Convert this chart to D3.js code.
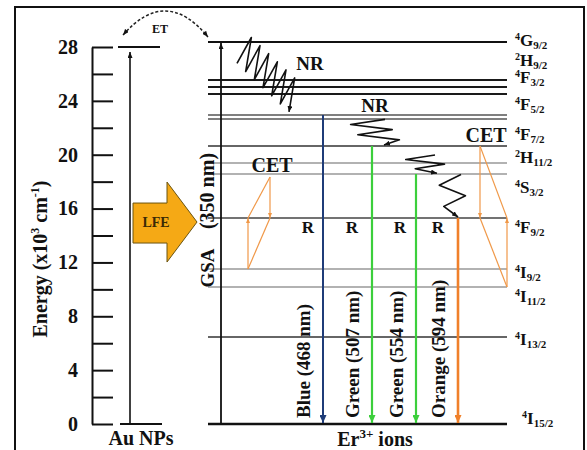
<!DOCTYPE html>
<html>
<head>
<meta charset="utf-8">
<script src="https://cdn.jsdelivr.net/npm/d3@7"></script>
<style>
  body { margin: 0; background: #fff; }
  svg text { font-family: "Liberation Serif", "Times New Roman", serif; font-weight: bold; fill: #111; }
</style>
</head>
<body>
<svg id="chart" width="587" height="450"></svg>
<script>
// energy axis (x10^3 cm^-1)
const tickValues = d3.range(0, 29, 2);
const tickLabels = [0, 4, 8, 12, 16, 20, 24, 28];

// Er3+ energy levels
const levelE = [28.37, 25.55, 25.03, 24.51, 22.95, 22.65, 20.65, 19.39, 18.57, 15.30, 11.51, 10.18, 6.46, 0];

// term symbols and where their labels sit on the energy axis
const termSup = ["4", "2", "4", "4", "4", "2", "4", "4", "4", "4", "4", "4"];
const termL = ["G", "H", "F", "F", "F", "H", "S", "F", "I", "I", "I", "I"];
const termJ = ["9/2", "9/2", "3/2", "5/2", "7/2", "11/2", "3/2", "9/2", "9/2", "11/2", "13/2", "15/2"];
const termE = [28.1, 26.62, 25.35, 23.32, 21.10, 19.39, 17.16, 14.19, 10.84, 9.06, 5.87, 0.0];

// radiative emissions
const emitNames = ["Blue (468 nm)", "Green (507 nm)", "Green (554 nm)", "Orange (594 nm)"];
const emitFrom = [22.95, 20.65, 18.57, 15.30];
const emitTo = [0, 0, 0, 0];

// non radiative relaxations
const nrFrom = [27.0, 22.85, 20.2, 18.75];
const nrTo = [23.1, 20.65, 18.55, 15.30];

// cross energy transfer (down leg top, shared middle, up leg bottom)
const cetTop = [18.35, 20.65];
const cetMid = [15.30, 15.30];
const cetLow = [11.51, 10.18];

// Au NPs level
const auE = [28, 0];

// layout
const W = 587, H = 450;
const svg = d3.select("#chart");
const y = d3.scaleLinear().domain([0, 28]).range([424, 47]);
const axisX = 92;
const lvlX0 = 208, lvlX1 = 507;
const gsaX = 221;
const auX = 130;
const emitX = [323, 372, 416, 458];
const emitColor = ["#1f3c78", "#3ccf3c", "#3ccf3c", "#f0802a"];
const emitWidth = [2, 2.2, 2.2, 2.6];
const levelWidth = [2.2, 2, 2, 2, 1.4, 1.4, 1.5, 1.1, 1.1, 1.5, 1.1, 1.1, 1.5, 2.6];
const levelColor = ["#111", "#1a1a1a", "#1a1a1a", "#1a1a1a", "#555", "#555", "#333", "#666", "#666", "#444", "#666", "#666", "#333", "#111"];
const cetColor = "#f09848";

const defs = svg.append("defs");
function marker(id, color, len, wid) {
  defs.append("marker")
    .attr("id", id)
    .attr("viewBox", `0 0 ${len} ${wid}`)
    .attr("refX", len).attr("refY", wid / 2)
    .attr("markerUnits", "userSpaceOnUse")
    .attr("markerWidth", len).attr("markerHeight", wid)
    .attr("orient", "auto-start-reverse")
    .append("path")
    .attr("d", `M0,0L${len},${wid / 2}L0,${wid}Z`)
    .attr("fill", color);
}
marker("arSmall", "#111", 6, 5);
emitColor.forEach((c, i) => marker("arEmit" + i, c, 8, 7));
marker("arCet", cetColor, 5, 4);

// frame
svg.append("rect")
  .attr("x", 15).attr("y", 7)
  .attr("width", 569).attr("height", H)
  .attr("fill", "none").attr("stroke", "#111").attr("stroke-width", 2);

// energy axis
const axis = svg.append("g")
  .attr("transform", `translate(${axisX},0)`)
  .call(d3.axisLeft(y)
    .tickValues(tickValues)
    .tickSizeInner(-21)
    .tickSizeOuter(0)
    .tickPadding(14)
    .tickFormat(d => tickLabels.includes(d) ? d : ""));
axis.select(".domain").attr("stroke", "#111").attr("stroke-width", 2);
axis.selectAll(".tick line").attr("stroke", "#111").attr("stroke-width", 2);
axis.selectAll(".tick text")
  .attr("font-size", 20)
  .style("font-family", "\"Liberation Serif\", serif")
  .style("font-weight", "bold")
  .attr("fill", "#111");

const yLab = svg.append("text")
  .attr("transform", `translate(47,259) rotate(-90)`)
  .attr("text-anchor", "middle")
  .attr("font-size", 20);
yLab.append("tspan").text("Energy (x10");
yLab.append("tspan").attr("font-size", 12).attr("dy", -8).text("3");
yLab.append("tspan").attr("dy", 8).text(" cm");
yLab.append("tspan").attr("font-size", 12).attr("dy", -8).text("-1");
yLab.append("tspan").attr("dy", 8).text(")");

// Au NPs column
svg.append("line")
  .attr("x1", 118).attr("x2", 160)
  .attr("y1", y(auE[0])).attr("y2", y(auE[0]))
  .attr("stroke", "#111").attr("stroke-width", 2);
svg.append("line")
  .attr("x1", 120).attr("x2", 162)
  .attr("y1", y(auE[1])).attr("y2", y(auE[1]))
  .attr("stroke", "#111").attr("stroke-width", 2);
svg.append("line")
  .attr("x1", auX).attr("x2", auX)
  .attr("y1", y(auE[1])).attr("y2", y(auE[0]) + 5)
  .attr("stroke", "#111").attr("stroke-width", 1.6)
  .attr("marker-end", "url(#arSmall)");
svg.append("text")
  .attr("x", 141).attr("y", 445)
  .attr("text-anchor", "middle")
  .attr("font-size", 20)
  .text("Au NPs");

// ET arc
svg.append("path")
  .attr("d", `M123,${y(auE[0]) - 12} Q166,-14 208,${y(levelE[0]) - 5}`)
  .attr("fill", "none").attr("stroke", "#222").attr("stroke-width", 1.5)
  .attr("stroke-dasharray", "3,2")
  .attr("marker-start", "url(#arSmall)")
  .attr("marker-end", "url(#arSmall)");
svg.append("text")
  .attr("x", 160).attr("y", 33)
  .attr("text-anchor", "middle")
  .attr("font-size", 12)
  .text("ET");

// energy levels
svg.append("g").selectAll("line")
  .data(levelE)
  .join("line")
  .attr("x1", lvlX0).attr("x2", lvlX1)
  .attr("y1", d => y(d)).attr("y2", d => y(d))
  .attr("stroke", (d, i) => levelColor[i])
  .attr("stroke-width", (d, i) => levelWidth[i]);

// term labels
const terms = svg.append("g").selectAll("text")
  .data(termL)
  .join("text")
  .attr("x", (d, i) => i === termL.length - 1 ? 522 : 515)
  .attr("y", (d, i) => y(termE[i]))
  .attr("font-size", 17);
terms.append("tspan").attr("font-size", 10).attr("dy", -6).text((d, i) => termSup[i]);
terms.append("tspan").attr("dy", 6).text(d => d);
terms.append("tspan").attr("font-size", 11).attr("dy", 3).text((d, i) => termJ[i]);

// GSA excitation
svg.append("line")
  .attr("x1", gsaX).attr("x2", gsaX)
  .attr("y1", y(0)).attr("y2", y(levelE[0]) + 1)
  .attr("stroke", "#111").attr("stroke-width", 1.8)
  .attr("marker-end", "url(#arSmall)");
svg.append("text")
  .attr("transform", `translate(${gsaX - 14},191) rotate(-90)`)
  .attr("text-anchor", "middle").attr("dy", "0.35em")
  .attr("font-size", 20)
  .text("(350 nm)");
svg.append("text")
  .attr("transform", `translate(${gsaX - 14},268) rotate(-90)`)
  .attr("text-anchor", "middle").attr("dy", "0.35em")
  .attr("font-size", 19)
  .text("GSA");

// LFE block arrow
const lfeE = 15.0;
const lfeCy = y(lfeE);
const lfePts = [
  [133, lfeCy - 19], [167, lfeCy - 19], [167, lfeCy - 40], [197, lfeCy],
  [167, lfeCy + 40], [167, lfeCy + 21], [133, lfeCy + 21]
];
svg.append("path")
  .attr("d", d3.line()(lfePts) + "Z")
  .attr("fill", "#f5a915").attr("stroke", "#6b5410").attr("stroke-width", 1);
svg.append("text")
  .attr("x", 156).attr("y", lfeCy + 5)
  .attr("text-anchor", "middle")
  .attr("font-size", 14)
  .style("fill", "#3a2a05")
  .text("LFE");

// emissions
svg.append("g").selectAll("line")
  .data(emitNames)
  .join("line")
  .attr("x1", (d, i) => emitX[i]).attr("x2", (d, i) => emitX[i])
  .attr("y1", (d, i) => y(emitFrom[i]))
  .attr("y2", (d, i) => y(emitTo[i]) - 1)
  .attr("stroke", (d, i) => emitColor[i])
  .attr("stroke-width", (d, i) => emitWidth[i])
  .attr("marker-end", (d, i) => `url(#arEmit${i})`);
svg.append("g").selectAll("text")
  .data(emitNames)
  .join("text")
  .attr("transform", (d, i) => `translate(${emitX[i] - 20},418) rotate(-90)`)
  .attr("dy", "0.35em")
  .attr("font-size", 19)
  .text(d => d);
svg.append("g").selectAll("text")
  .data(emitNames)
  .join("text")
  .attr("x", (d, i) => emitX[i] - [15, 20, 16, 20][i])
  .attr("y", 233)
  .attr("text-anchor", "middle")
  .attr("font-size", 17)
  .text("R");

// non radiative zigzags: offset vector (ox, oy) alternates sign
const nrLayout = [
  { x0: 242, x1: 294, ox: -5, oy: 15, n: 12, endMid: false },
  { x0: 366, x1: 384, ox: 19, oy: 0, n: 5, endMid: true },
  { x0: 418, x1: 437, ox: 17, oy: 0, n: 4, endMid: true },
  { x0: 449, x1: 458, ox: 12, oy: 0, n: 4, endMid: true }
];
nrLayout.forEach((L, k) => {
  const pad = L.endMid ? 0 : L.oy;
  const y0 = y(nrFrom[k]) + (L.endMid ? 3 : -pad + 3);
  const y1 = y(nrTo[k]) - (L.endMid ? 1 : pad + 1);
  const pts = d3.range(L.n + 1).map(i => {
    const t = i / L.n;
    const px = L.x0 + (L.x1 - L.x0) * t;
    const py = y0 + (y1 - y0) * t;
    const s = (i % 2 === 0 ? 1 : -1) * (i === L.n && L.endMid ? 0 : 1);
    return [px + s * L.ox, py + s * L.oy];
  });
  svg.append("path")
    .attr("d", d3.line()(pts))
    .attr("fill", "none").attr("stroke", "#111").attr("stroke-width", 1.6)
    .attr("stroke-linejoin", "round")
    .attr("marker-end", "url(#arSmall)");
});
svg.append("text").attr("x", 310).attr("y", 70).attr("text-anchor", "middle").attr("font-size", 19).text("NR");
svg.append("text").attr("x", 375).attr("y", 112).attr("text-anchor", "middle").attr("font-size", 19).text("NR");

// cross energy transfer
const cetDownX = [270, 480];
const cetUpX = [248, 507];
cetTop.forEach((top, k) => {
  const g = svg.append("g").attr("stroke", cetColor).attr("stroke-width", 1.2).attr("fill", "none");
  g.append("line")
    .attr("x1", cetDownX[k]).attr("x2", cetDownX[k])
    .attr("y1", y(top)).attr("y2", y(cetMid[k]))
    .attr("marker-end", "url(#arCet)");
  g.append("line")
    .attr("x1", cetUpX[k]).attr("x2", cetUpX[k])
    .attr("y1", y(cetLow[k])).attr("y2", y(cetMid[k]))
    .attr("marker-end", "url(#arCet)");
  g.append("line")
    .attr("x1", cetDownX[k]).attr("x2", cetUpX[k])
    .attr("y1", y(top)).attr("y2", y(cetMid[k]));
  g.append("line")
    .attr("x1", cetDownX[k]).attr("x2", cetUpX[k])
    .attr("y1", y(cetMid[k])).attr("y2", y(cetLow[k]));
});
svg.append("text").attr("x", 272).attr("y", 172).attr("text-anchor", "middle").attr("font-size", 20).text("CET");
svg.append("text").attr("x", 486).attr("y", 142).attr("text-anchor", "middle").attr("font-size", 20).text("CET");

// Er3+ ions label
const erLab = svg.append("text")
  .attr("x", 375).attr("y", 446)
  .attr("text-anchor", "middle")
  .attr("font-size", 20);
erLab.append("tspan").text("Er");
erLab.append("tspan").attr("font-size", 13).attr("dy", -8).text("3+");
erLab.append("tspan").attr("dy", 8).text(" ions");
</script>
</body>
</html>
